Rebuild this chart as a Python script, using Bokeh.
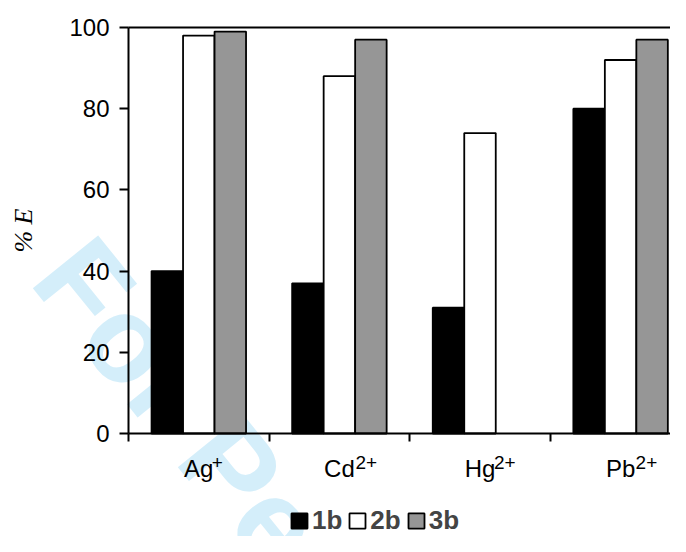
import numpy as np
from bokeh.plotting import figure
from bokeh.models import (Range1d, FixedTicker, Label, Legend, LegendItem,
                          LinearAxis, ColumnDataSource)
from bokeh.embed import file_html
from bokeh.resources import INLINE

# ---- data ----
ions = ["Ag", "Cd", "Hg", "Pb"]
charges = ["+", "2+", "2+", "2+"]
series_names = ["1b", "2b", "3b"]
e_1b = [40, 37, 31, 80]
e_2b = [98, 88, 74, 92]
e_3b = [99, 97, float("nan"), 97]
y_ticks = [0, 20, 40, 60, 80, 100]

# ---- style / layout ----
FONT = "Liberation Sans"
colors = ["#000000", "#ffffff", "#969696"]
W, H = 670, 536
x0_px, y0_px = 128, 433          # pixel position of the axes origin
px_per_cat, px_per_pct = 140.6, 4.06
bar_w = 0.224
n = len(ions)
centers = np.arange(n) + 0.5

x_range = Range1d(-x0_px / px_per_cat, (W - x0_px) / px_per_cat)
y_range = Range1d((y0_px - H) / px_per_pct, y0_px / px_per_pct)

p = figure(width=W, height=H, output_backend="svg", toolbar_location=None,
           x_range=x_range, y_range=y_range,
           min_border=0, min_border_left=0, min_border_right=0,
           min_border_top=0, min_border_bottom=0)
p.outline_line_color = None
p.xgrid.visible = False
p.ygrid.visible = False
p.background_fill_color = "white"
p.border_fill_color = "white"

# watermark (behind everything)
p.add_layout(Label(x=(60 - x0_px) / px_per_cat, y=(y0_px - 255) / px_per_pct,
                   text="For Peer Review", angle=-51, angle_units="deg",
                   text_font=FONT, text_font_size="122px", text_font_style="bold",
                   text_color="#d4eefa",
                   text_baseline="alphabetic", text_align="left", level="underlay"))

renderers = []
for k, vals in enumerate([e_1b, e_2b, e_3b]):
    src = ColumnDataSource(dict(x=centers + (k - 1) * bar_w, top=vals))
    r = p.vbar(x="x", top="top", bottom=0, width=bar_w, source=src,
               fill_color=colors[k], line_color="black", line_width=1.8)
    renderers.append(r)

# y axis
ya = p.yaxis[0]
ya.fixed_location = 0
ya.bounds = (0, 100)
ya.ticker = FixedTicker(ticks=y_ticks)
ya.minor_tick_line_color = None
ya.major_tick_in = 0
ya.major_tick_out = 9
ya.major_tick_line_width = 2
ya.axis_line_width = 2
ya.major_label_standoff = 10
ya.major_label_text_font = FONT
ya.major_label_text_font_size = "24px"
ya.major_label_text_color = "black"
ya.axis_label = "% E"
ya.axis_label_text_font = "Liberation Serif"
ya.axis_label_text_font_style = "italic"
ya.axis_label_text_font_size = "26px"
ya.axis_label_text_color = "black"
ya.axis_label_standoff = 28

# x axis
xa = p.xaxis[0]
xa.fixed_location = 0
xa.bounds = (0, n)
xa.ticker = FixedTicker(ticks=list(centers), minor_ticks=list(range(n)))
xa.major_label_overrides = {float(c): ion for c, ion in zip(centers, ions)}
xa.major_tick_line_color = None
xa.major_tick_out = 0
xa.major_tick_in = 0
xa.minor_tick_line_color = "black"
xa.minor_tick_line_width = 2
xa.minor_tick_out = 8
xa.minor_tick_in = 0
xa.axis_line_width = 2
xa.major_label_standoff = 13
xa.major_label_text_font = FONT
xa.major_label_text_font_size = "24px"
xa.major_label_text_color = "black"

# top border of the plot area
top_axis = LinearAxis(fixed_location=100, bounds=(0, n), axis_line_width=2,
                      ticker=FixedTicker(ticks=[]),
                      major_tick_line_color=None, minor_tick_line_color=None)
p.add_layout(top_axis, "above")

# superscript charges
sup_dx = [13, 16, 14, 15]
for c, ch, dx in zip(centers, charges, sup_dx):
    p.add_layout(Label(x=c, y=0, x_offset=dx, y_offset=-29, text=ch,
                       text_font=FONT, text_font_size="19px", text_color="black",
                       text_align="left", text_baseline="alphabetic"))

legend = Legend(items=[LegendItem(label=nm, renderers=[r]) for nm, r in zip(series_names, renderers)],
                orientation="horizontal", location=(289, 0),
                label_text_font=FONT, label_text_font_style="bold",
                label_text_font_size="26px", glyph_width=20, glyph_height=19,
                label_standoff=3, spacing=5, padding=0, margin=0,
                border_line_color=None, background_fill_alpha=0,
                label_height=19)
p.add_layout(legend)

open("out.html", "w").write(file_html(p, INLINE))
